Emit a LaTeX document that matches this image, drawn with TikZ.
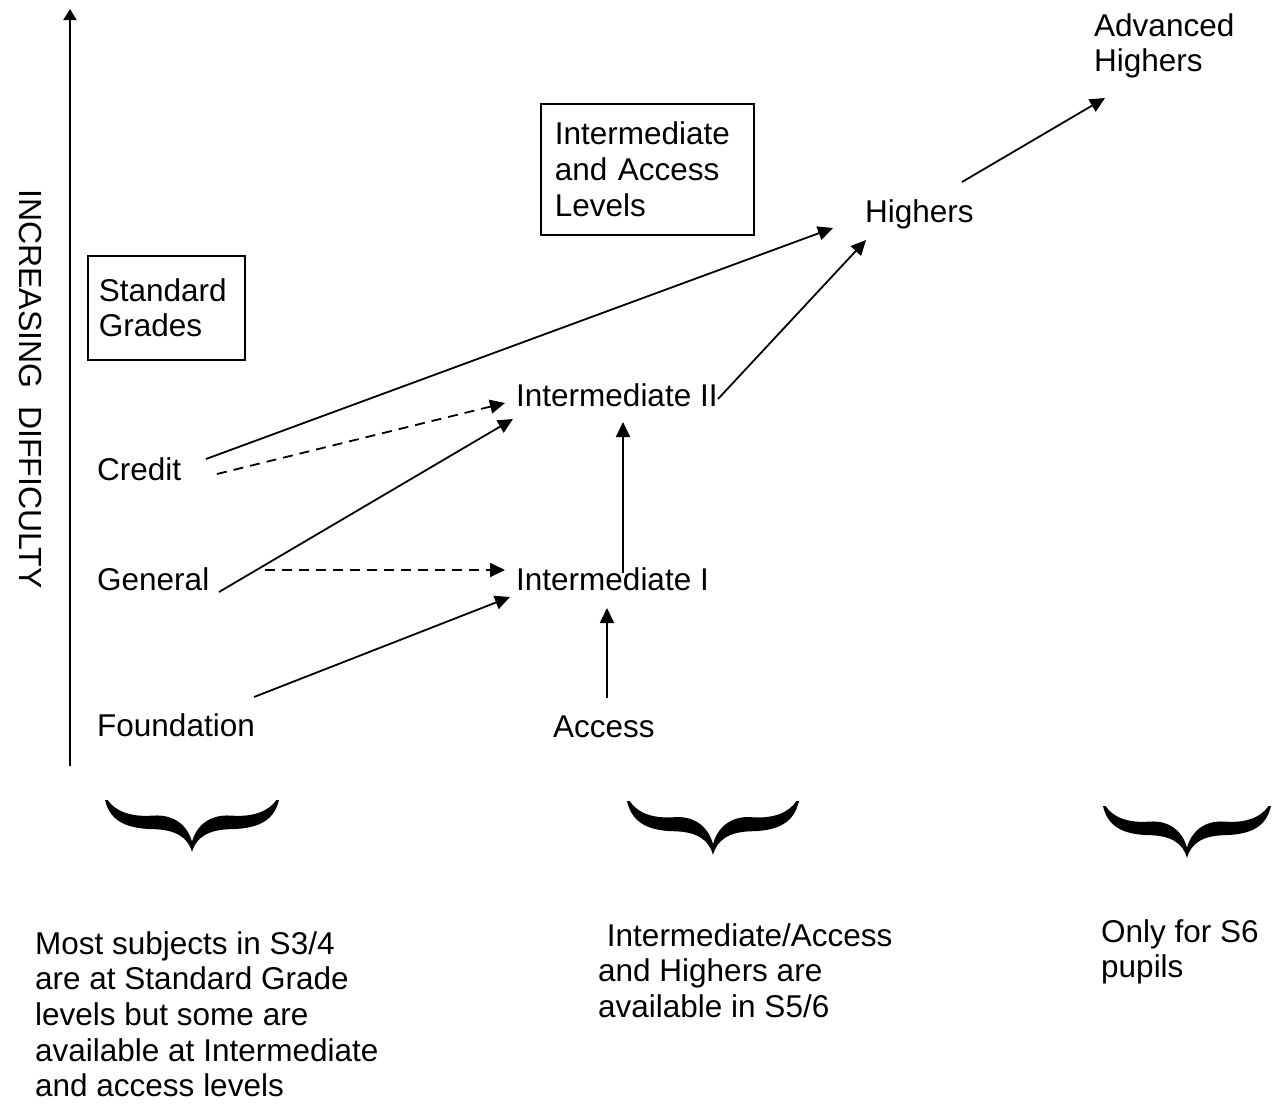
\documentclass[tikz,border=0pt]{standalone}
\usepackage{fontspec}
\setmainfont{Liberation Sans}
\usetikzlibrary{arrows.meta,calc}
\tikzset{
  curlybrace/.pic={
    \fill (-1,0) .. controls (-0.95,0.35) and (-0.8,0.55) .. (-0.45,0.56)
      .. controls (-0.2,0.57) and (-0.05,0.7) .. (0,1)
      .. controls (0.05,0.7) and (0.2,0.57) .. (0.45,0.56)
      .. controls (0.8,0.55) and (0.95,0.35) .. (1,0)
      -- (0.97,0) .. controls (0.88,0.22) and (0.7,0.33) .. (0.45,0.30)
      .. controls (0.2,0.27) and (0.05,0.5) .. (0,0.8)
      .. controls (-0.05,0.5) and (-0.2,0.27) .. (-0.45,0.30)
      .. controls (-0.7,0.33) and (-0.88,0.22) .. (-0.97,0) -- cycle;
  }
}
\begin{document}
\begin{tikzpicture}[x=1pt,y=-1pt,
  txtfont/.style={font=\fontsize{31.5}{35.7}\selectfont},
  lbl/.style={txtfont, inner sep=0pt, anchor=base west},
  blk/.style={txtfont, inner sep=0pt, anchor=north west, align=left},
  boxed/.style={txtfont, draw, line width=1.6pt, anchor=north west, align=left, inner ysep=0pt},
  conn/.style={line width=1.8pt, -{Triangle[length=15pt,width=14pt]}},
  dconn/.style={conn, dash pattern=on 10pt off 7pt},
]
\useasboundingbox (0,0) rectangle (1277,1104);

% axis
\coordinate (axbot) at (70,766);
\coordinate (axtop) at (70,9);
\draw[line width=1.8pt, -{Triangle[length=11pt,width=13pt]}] (axbot) -- (axtop);
\node[font=\fontsize{32}{36}\selectfont, rotate=-90, inner sep=0pt] (axlabel) at (31,389) {INCREASING\ \ DIFFICULTY};

% boxes
\node[boxed, minimum width=157pt, minimum height=104pt, text width=135pt, inner xsep=11pt] (sgbox) at (87,255) {Standard\\Grades};
\node[boxed, minimum width=213pt, minimum height=131pt, text width=185pt, inner xsep=14pt] (iabox) at (540,103) {Intermediate\\and Access\\Levels};

% level labels
\node[lbl] (credit) at (97,480) {Credit};
\node[lbl] (general) at (97,590) {General};
\node[lbl] (found) at (97,736) {Foundation};
\node[lbl] (access) at (553,737) {Access};
\node[lbl] (int1) at (516,590) {Intermediate I};
\node[lbl] (int2) at (516,406) {Intermediate II};
\node[lbl] (highers) at (865,222) {Highers};
\node[blk] (adv) at (1094,13) {Advanced\\Highers};

% connectors
\draw[conn] ($(credit.base west)+(109,-21)$) -- ($(highers.base west)+(-32,6)$);
\draw[dconn] ($(credit.base west)+(120,-6)$) -- ($(int2.base west)+(-11,-3)$);
\draw[conn] ($(general.base west)+(122,2)$) -- ($(int2.base west)+(-3,13)$);
\draw[dconn] ($(general.base west)+(168,-20)$) -- ($(int1.base west)+(-11,-20)$);
\draw[conn] ($(found.base west)+(157,-39)$) -- ($(int1.base west)+(-6,7)$);
\draw[conn] ($(access.base west)+(54,-39)$) -- ($(int1.base west)+(91,18)$);
\draw[conn] ($(int1.base west)+(107,-17)$) -- ($(int2.base west)+(107,16)$);
\draw[conn] ($(int2.base west)+(202,-7)$) -- ($(highers.base west)+(1,18)$);
\draw[conn] ($(highers.base west)+(97,-40)$) -- ($(adv.north west)+(11,85)$);

% braces
\pic[xscale=87, yscale=52] at (192,800) {curlybrace};
\pic[xscale=86, yscale=54] at (713,801) {curlybrace};
\pic[xscale=84, yscale=52] at (1187,806) {curlybrace};

% notes
\node[blk] (note1) at (35,931) {Most subjects in S3/4\\are at Standard Grade\\levels but some are\\available at Intermediate\\and access levels};
\node[blk] (note2) at (598,923) {\ Intermediate/Access\\and Highers are\\available in S5/6};
\node[blk] (note3) at (1101,919) {Only for S6\\pupils};
\end{tikzpicture}
\end{document}
